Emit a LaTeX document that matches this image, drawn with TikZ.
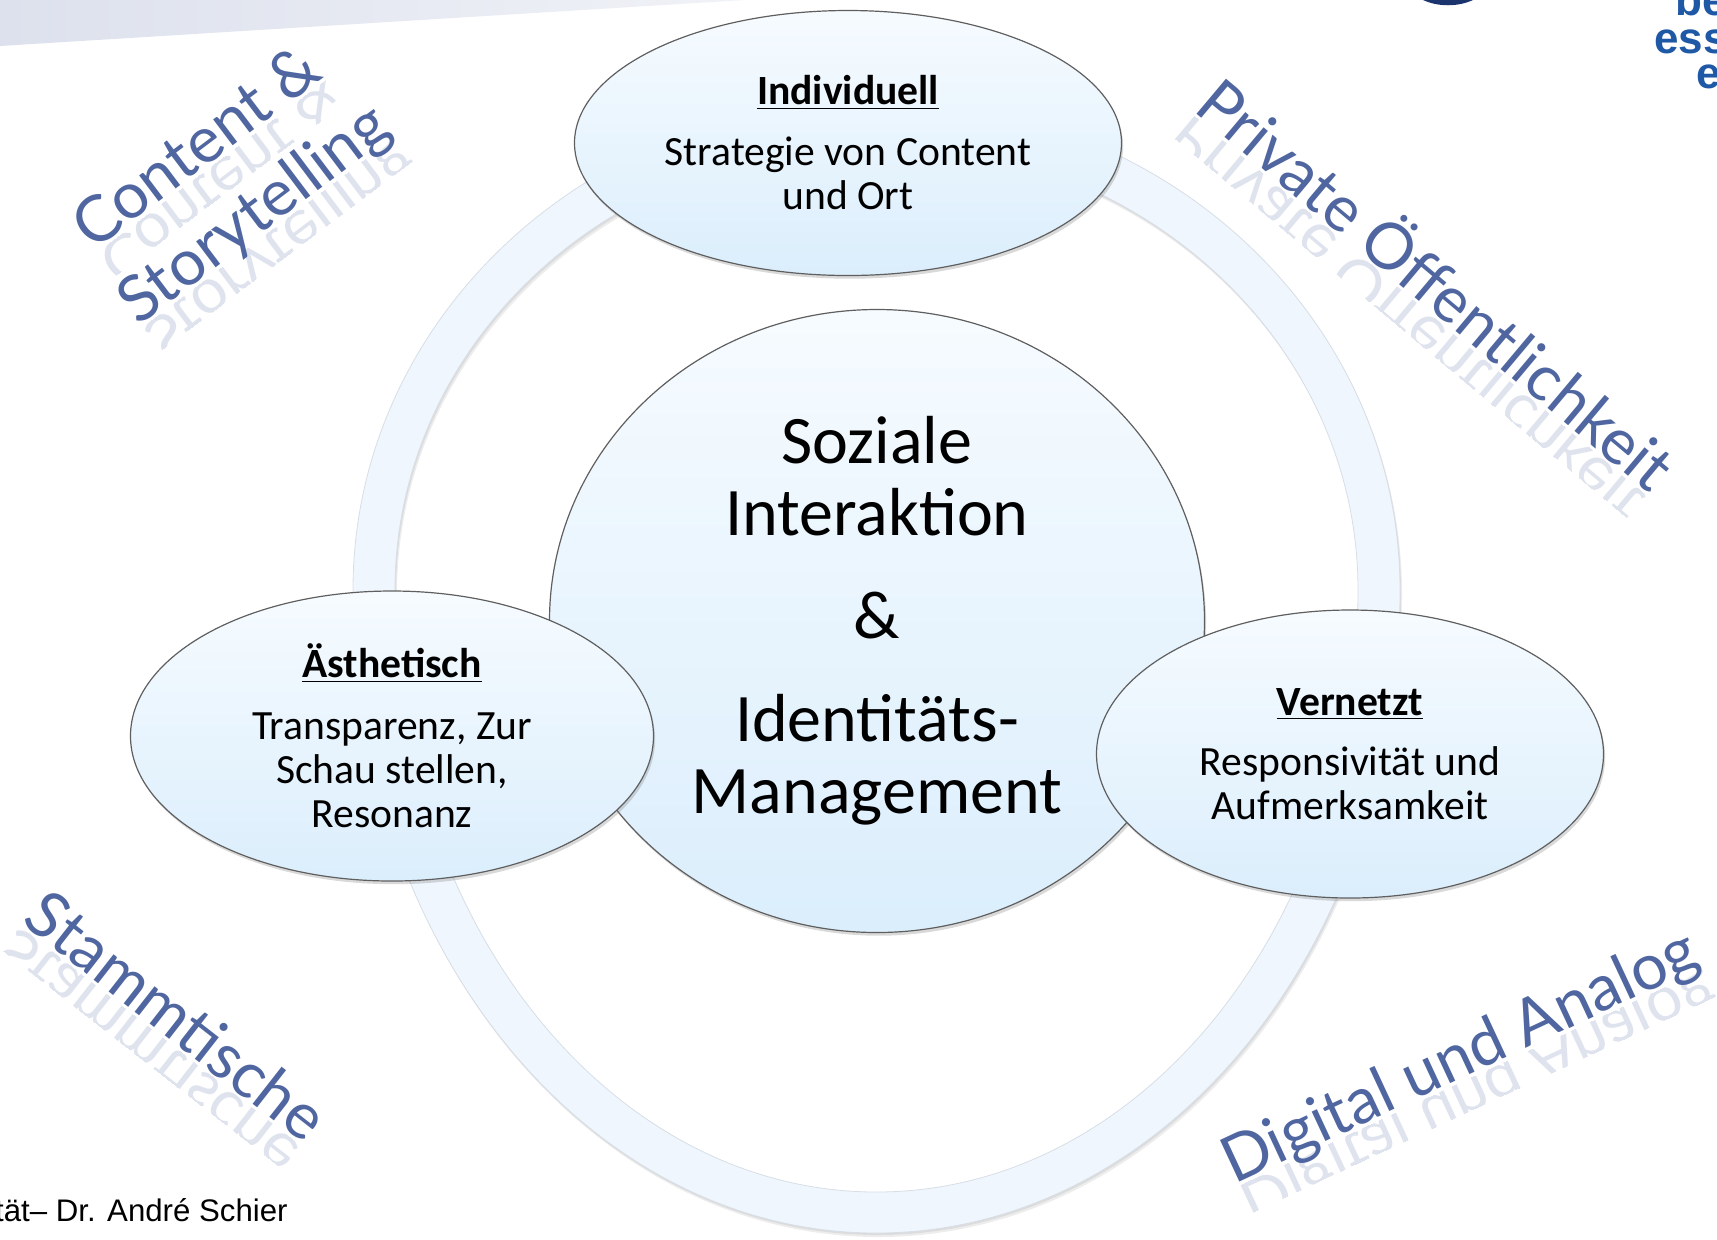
\documentclass[tikz,border=0pt]{standalone}
\usepackage{fontspec}
\setmainfont{Carlito}
\newfontfamily\diagfont{Lato}
\newfontfamily\arialfont{Liberation Sans}
\usetikzlibrary{shapes.geometric,shadows}

\definecolor{diagblue}{RGB}{80,102,160}
\definecolor{bubtop}{RGB}{246,251,255}
\definecolor{bubbot}{RGB}{219,238,252}
\definecolor{bubline}{RGB}{95,95,95}
\definecolor{ringfill}{RGB}{239,246,253}
\definecolor{ringline}{RGB}{215,222,230}
\definecolor{logoblue}{RGB}{31,88,165}
\definecolor{logodark}{RGB}{28,52,110}
\definecolor{bandL}{RGB}{221,225,237}
\definecolor{bandR}{RGB}{240,242,247}

\newcommand\myringpath{(353,590) arc[start angle=180, end angle=360, x radius=523.5, y radius=490]
            arc[start angle=0, end angle=180, x radius=523.5, y radius=643] -- cycle
  (395,590) arc[start angle=180, end angle=360, x radius=481.5, y radius=447]
            arc[start angle=0, end angle=180, x radius=481.5, y radius=602] -- cycle}

% word with a short mirrored reflection below its baseline
\newcommand\diagword[5]{% #1 name, #2 x, #3 y, #4 angle, #5 text
  \begin{scope}[shift={(#2,#3)}, rotate=#4, transform shape]
    \node[diag, anchor=base] (#1) at (0,20) {#5};
    \begin{scope}[shift={(0,23)}]
      \clip (-420,0) rectangle (420,30);
      \begin{scope}[yscale=-1]
        \node[refl, anchor=base] (#1r) at (0,0) {#5};
      \end{scope}
    \end{scope}
  \end{scope}}

\begin{document}
\begin{tikzpicture}[x=0.5pt,y=-0.5pt,
  bubble/.style={ellipse, draw=bubline, line width=0.6pt, top color=bubtop, bottom color=bubbot,
    inner sep=0pt, align=center,
    drop shadow={shadow xshift=0.8pt, shadow yshift=-1.6pt, opacity=0.3}},
  bubtext/.style={font=\fontsize{20.8}{22}\selectfont},
  bigtext/.style={font=\fontsize{34}{36}\selectfont},
  diag/.style={text=diagblue, font=\diagfont\fontsize{32}{38}\selectfont, inner sep=0pt},
  refl/.style={diag, text opacity=0.18},
  foot/.style={font=\arialfont\fontsize{15.6}{19}\selectfont, inner sep=0pt},
  logo/.style={font=\arialfont\bfseries\fontsize{22}{22}\selectfont, text=logoblue, inner sep=0pt},
]
\useasboundingbox (0,0) rectangle (1717,1239);

% top band
\shade[left color=bandL, right color=bandR] (0,0) -- (745,0) -- (0,46) -- cycle;

% dark logo sliver at the top edge
\fill[logodark] (1423,0) .. controls (1438,7) and (1458,7) .. (1473,0) -- cycle;

% ring with soft shadow
\fill[black, opacity=0.07, even odd rule, shift={(1,2)}] \myringpath;
\fill[black, opacity=0.07, even odd rule, shift={(2,4)}] \myringpath;
\path[fill=ringfill, draw=ringline, line width=0.4pt, even odd rule] \myringpath;

% central circle
\node[bubble, bigtext, minimum width=327.5pt, minimum height=311.5pt] (center) at (877,621)
  {Soziale\\Interaktion\\[15.5pt]\&\\[15.5pt]Identitäts-\\Management};

% satellites
\node[bubble, bubtext, minimum width=273.5pt, minimum height=132.5pt] (top) at (848,143)
  {\textbf{\underline{Individuell}}\\[8.5pt]Strategie von Content\\und Ort};
\node[bubble, bubtext, minimum width=261.5pt, minimum height=145pt] (left) at (392,736)
  {\textbf{\underline{Ästhetisch}}\\[9pt]Transparenz, Zur\\Schau stellen,\\Resonanz};
\node[bubble, bubtext, minimum width=253.5pt, minimum height=144pt] (right) at (1350,754)
  {\textbf{\underline{Vernetzt}}\\[8pt]Responsivität und\\Aufmerksamkeit};

% diagonal words
\diagword{w1}{197}{148}{37}{Content \&}
\diagword{w2}{254}{214}{37}{Storytelling}
\diagword{w3}{1434}{287}{-40}{Private Öffentlichkeit}
\diagword{w4}{175}{1018}{-38}{Stammtische}
\diagword{w5}{1460}{1057}{25}{Digital und Analog}

% footer and logo fragments
\node[foot, anchor=east] (footer) at (288,1210) {tät– Dr. André Schier};
\node[logo, anchor=base west] (lg1) at (1675,15) {be};
\node[logo, anchor=base west] (lg2) at (1654,53) {ess};
\node[logo, anchor=base west] (lg3) at (1696,88) {e};
\end{tikzpicture}
\end{document}
